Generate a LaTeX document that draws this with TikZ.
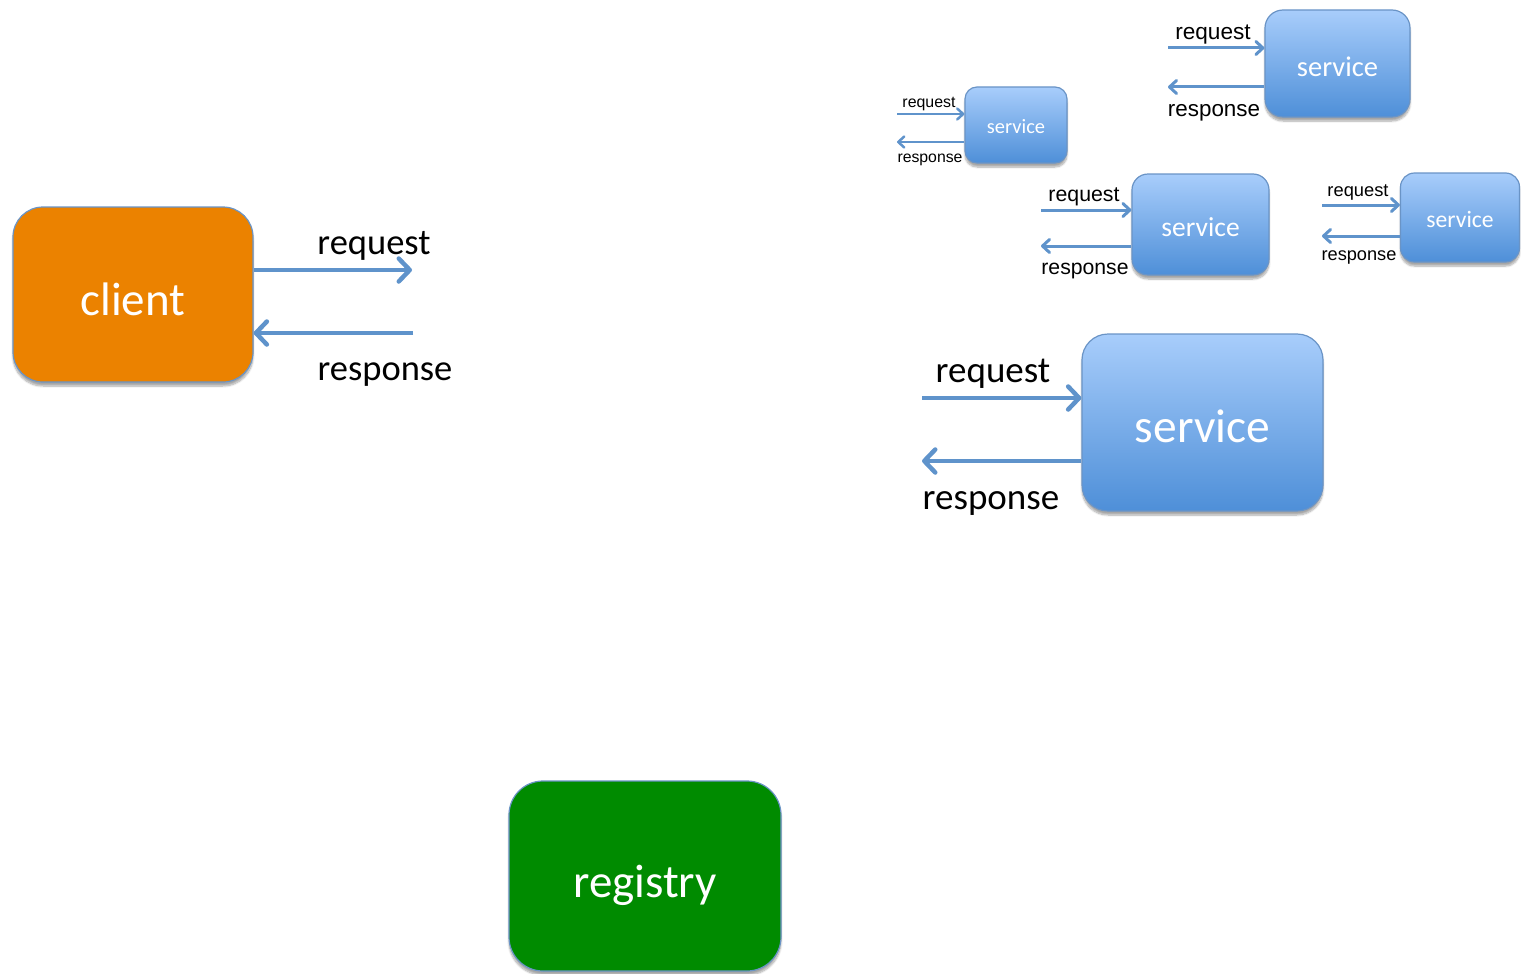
\documentclass[tikz,border=0pt]{standalone}
\usepackage{fontspec}
\setmainfont{Carlito}
\newfontfamily\arialf{Liberation Sans}
\usetikzlibrary{arrows.meta,shadows.blur}
\definecolor{arrowblue}{HTML}{5F93CB}
\definecolor{edgeblue}{HTML}{6A94C6}
\definecolor{clientfill}{HTML}{EB8200}
\definecolor{regfill}{HTML}{008B00}
\definecolor{svtop}{HTML}{A8CDFB}
\definecolor{svbot}{HTML}{4E8FD8}
\tikzset{
  boxbase/.style={rounded corners=#1, draw=edgeblue, line width=1.2pt,
    blur shadow={shadow xshift=0pt, shadow yshift=-4pt, shadow opacity=35, shadow blur steps=8}},
  clientbox/.style={boxbase=30pt, fill=clientfill},
  regbox/.style={boxbase=34pt, fill=regfill},
  svbox/.style={boxbase=#1, top color=svtop, bottom color=svbot},
  boxtxt/.style={text=white, inner sep=0pt},
  msg/.style={text=black, inner sep=0pt},
  bigarr/.style={draw=arrowblue, line width=4.5pt, -{Straight Barb[round,length=11pt,width=23pt]}},
  midarr/.style={draw=arrowblue, line width=3pt, -{Straight Barb[round,length=7pt,width=13pt]}},
  smallarr/.style={draw=arrowblue, line width=2.5pt, -{Straight Barb[round,length=6pt,width=11pt]}},
}
\begin{document}
\begin{tikzpicture}[x=1pt,y=-1pt]
\useasboundingbox (0,0) rectangle (1521,974);

% client with its request / response pair
\node[clientbox, minimum width=240pt, minimum height=175pt] (client) at (133,294.5) {};
\node[boxtxt, font=\fontsize{47}{47}\selectfont] (clienttxt) at ([yshift=-5pt]client.center) {client};
\coordinate (creq) at (412,270);
\coordinate (cres) at (413,333);
\draw[bigarr] (client.east |- creq) -- (creq);
\draw[bigarr] (cres) -- (client.east |- cres);
\node[msg, font=\fontsize{36.5}{36.5}\selectfont] (creqtxt) at (374,246) {request};
\node[msg, font=\fontsize{36.5}{36.5}\selectfont] (crestxt) at (385,375) {response};

% registry
\node[regbox, minimum width=272pt, minimum height=190pt] (registry) at (645,876) {};
\node[boxtxt, font=\fontsize{47}{47}\selectfont] (regtxt) at ([yshift=-9pt]registry.center) {registry};

% large service
\node[svbox=26pt, minimum width=241pt, minimum height=177pt] (sA) at (1202.5,422.5) {};
\node[boxtxt, font=\fontsize{47.5}{47.5}\selectfont] (sAtxt) at ([yshift=-4pt]sA.center) {service};
\coordinate (sAreq) at (922,398);
\coordinate (sAres) at (922,461);
\draw[bigarr] (sAreq) -- (sAreq -| sA.west);
\draw[bigarr] (sAres -| sA.west) -- (sAres);
\node[msg, font=\fontsize{37}{37}\selectfont] (sAreqtxt) at (993,374) {request};
\node[msg, font=\fontsize{37}{37}\selectfont] (sArestxt) at (991,503) {response};

% top-right service
\node[svbox=18pt, minimum width=145pt, minimum height=107pt] (sB) at (1337.5,63.5) {};
\node[boxtxt, font=\fontsize{28.5}{28.5}\selectfont] (sBtxt) at ([yshift=-3pt]sB.center) {service};
\coordinate (sBreq) at (1168,48);
\coordinate (sBres) at (1168,87);
\draw[midarr] (sBreq) -- (sBreq -| sB.west);
\draw[midarr] (sBres -| sB.west) -- (sBres);
\node[msg, font=\arialf\fontsize{22.6}{22.6}\selectfont] (sBreqtxt) at (1213,35) {request};
\node[msg, font=\arialf\fontsize{22.4}{22.4}\selectfont] (sBrestxt) at (1214,113) {response};

% small left service
\node[svbox=12pt, minimum width=102pt, minimum height=76pt] (sC) at (1016,125) {};
\node[boxtxt, font=\fontsize{20.4}{20.4}\selectfont] (sCtxt) at ([yshift=-2pt]sC.center) {service};
\coordinate (sCreq) at (897,114);
\coordinate (sCres) at (897,142);
\draw[smallarr] (sCreq) -- (sCreq -| sC.west);
\draw[smallarr] (sCres -| sC.west) -- (sCres);
\node[msg, font=\arialf\fontsize{15.9}{15.9}\selectfont] (sCreqtxt) at (929,104) {request};
\node[msg, font=\arialf\fontsize{15.8}{15.8}\selectfont] (sCrestxt) at (930,160) {response};

% middle service
\node[svbox=16pt, minimum width=137pt, minimum height=101pt] (sD) at (1200.5,224.5) {};
\node[boxtxt, font=\fontsize{27.5}{27.5}\selectfont] (sDtxt) at ([yshift=-3pt]sD.center) {service};
\coordinate (sDreq) at (1041,210);
\coordinate (sDres) at (1041,246);
\draw[midarr] (sDreq) -- (sDreq -| sD.west);
\draw[midarr] (sDres -| sD.west) -- (sDres);
\node[msg, font=\arialf\fontsize{21.3}{21.3}\selectfont] (sDreqtxt) at (1084,197) {request};
\node[msg, font=\arialf\fontsize{21.2}{21.2}\selectfont] (sDrestxt) at (1085,271) {response};

% right service
\node[svbox=14pt, minimum width=119pt, minimum height=89pt] (sE) at (1460,217.5) {};
\node[boxtxt, font=\fontsize{23.6}{23.6}\selectfont] (sEtxt) at ([yshift=-2pt]sE.center) {service};
\coordinate (sEreq) at (1322,205);
\coordinate (sEres) at (1322,236);
\draw[midarr] (sEreq) -- (sEreq -| sE.west);
\draw[midarr] (sEres -| sE.west) -- (sEres);
\node[msg, font=\arialf\fontsize{18.3}{18.3}\selectfont] (sEreqtxt) at (1358,192) {request};
\node[msg, font=\arialf\fontsize{18.2}{18.2}\selectfont] (sErestxt) at (1359,257) {response};
\end{tikzpicture}
\end{document}
